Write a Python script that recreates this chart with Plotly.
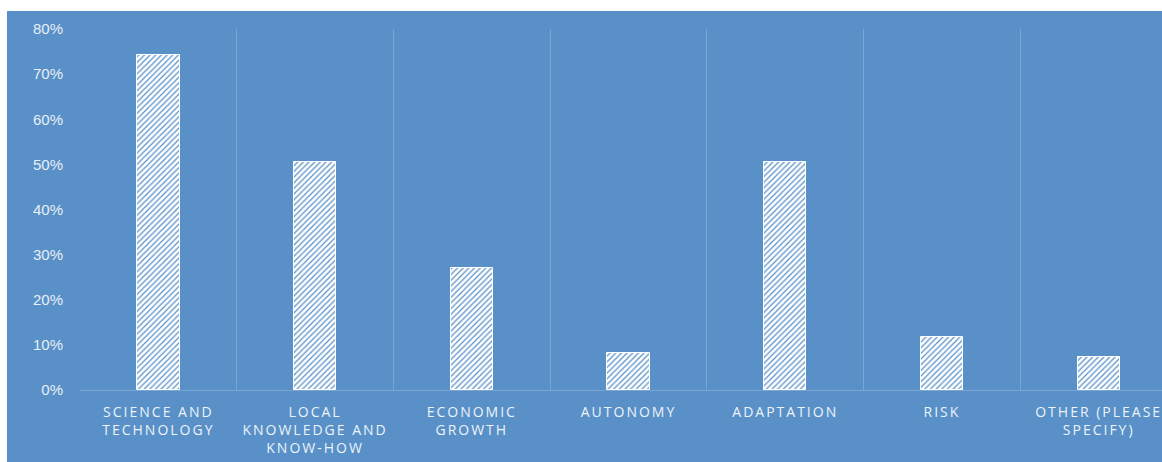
import plotly.graph_objects as go

categories = ["SCIENCE AND<br>TECHNOLOGY", "LOCAL<br>KNOWLEDGE AND<br>KNOW-HOW", "ECONOMIC<br>GROWTH",
              "AUTONOMY", "ADAPTATION", "RISK", "OTHER (PLEASE<br>SPECIFY)"]
values = [0.743, 0.506, 0.27, 0.082, 0.505, 0.117, 0.073]
y_ticks = [0, 0.1, 0.2, 0.3, 0.4, 0.5, 0.6, 0.7, 0.8]

BLUE = "#5890C7"
GRID = "#79A6D4"

fig = go.Figure()
fig.add_trace(go.Bar(
    x=categories, y=values, width=0.27,
    marker=dict(color="white", line=dict(color="white", width=1),
                pattern=dict(shape="/", fillmode="replace", bgcolor="white", fgcolor=BLUE,
                             size=4, solidity=0.3)),
    hoverinfo="skip",
))

fig.update_layout(
    width=1162, height=462,
    margin=dict(l=80, r=0, t=29, b=72),
    paper_bgcolor="white", plot_bgcolor="rgba(0,0,0,0)",
    showlegend=False,
    bargap=0,
    shapes=[dict(type="rect", xref="paper", yref="paper", x0=-0.0675, x1=1.05, y0=-0.3, y1=1.05,
                 fillcolor=BLUE, line=dict(width=0), layer="below")],
    xaxis=dict(range=[-0.5, 6.404], tickson="boundaries", showgrid=True, gridcolor=GRID, gridwidth=1,
               showline=True, linecolor=GRID, linewidth=1, ticks="", ticklabelstandoff=9,
               zeroline=False,
               tickfont=dict(family="Open Sans", size=14, color="#EEF3FA"), tickangle=0),
    yaxis=dict(range=[0, 0.8], tickvals=y_ticks, tickformat=".0%", showgrid=False, zeroline=False,
               showline=False, ticks="outside", ticklen=13, tickcolor="rgba(0,0,0,0)",
               tickfont=dict(family="Liberation Sans", size=15, color="#E8EFF8")),
)
fig.write_html("out.html",
               config={"displayModeBar": False},
               post_script="var s=document.createElement('style');"
                           "s.textContent='body{margin:0;overflow:hidden} .xtick text{letter-spacing:2px}';"
                           "document.head.appendChild(s);")
